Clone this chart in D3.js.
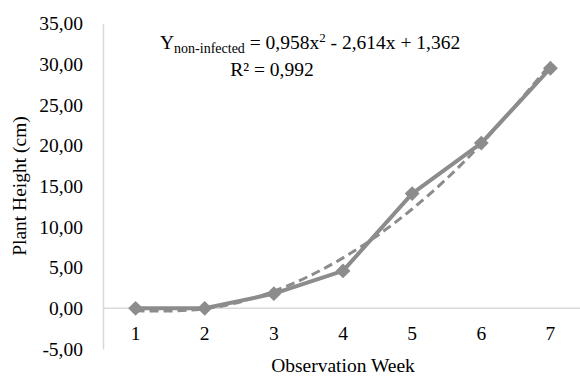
<!DOCTYPE html>
<html>
<head>
<meta charset="utf-8">
<title>Plant Height</title>
<style>
  body { margin: 0; background: #fff; }
</style>
</head>
<body>
<script src="https://cdn.jsdelivr.net/npm/d3@7"></script>
<div id="chart"></div>
<script>
const width = 580, height = 376;

// data
const weeks = [1, 2, 3, 4, 5, 6, 7];
const height_cm = [0.0, 0.0, 1.8, 4.6, 14.1, 20.3, 29.5];
const trend = [-0.3, -0.05, 2.1, 6.2, 12.2, 20.2, 30.0];
const yTicks = [-5, 0, 5, 10, 15, 20, 25, 30, 35];

const grey = "#8c8c8c";
const font = "'Liberation Serif', 'Times New Roman', 'DejaVu Serif', serif";

const svg = d3.select("#chart").append("svg")
  .attr("width", width)
  .attr("height", height)
  .style("font-family", font);

const x = d3.scaleBand().domain(weeks).range([101, 585]);
const y = d3.scaleLinear().domain([-5, 35]).range([349, 23.5]);
const cx = d => x(d) + x.bandwidth() / 2;
const fmt = v => d3.format(".2f")(v).replace(".", ",").replace("\u2212", "-");

// y axis
const yAxis = svg.append("g")
  .attr("transform", "translate(103,0)")
  .call(d3.axisLeft(y).tickValues(yTicks).tickSize(0).tickPadding(20).tickFormat(fmt));
yAxis.attr("font-family", font).attr("font-size", null);
yAxis.select(".domain").attr("stroke", "#d9d9d9").attr("stroke-width", 1.5);
yAxis.selectAll("text").style("font-size", "19.5px").style("font-family", font);

// x axis line at zero
svg.append("line")
  .attr("x1", 103).attr("x2", 580)
  .attr("y1", y(0)).attr("y2", y(0))
  .attr("stroke", "#d9d9d9").attr("stroke-width", 1.5);

// x labels below (low position)
svg.append("g").selectAll("text")
  .data(weeks).join("text")
  .attr("x", cx)
  .attr("y", y(-5) - 9)
  .attr("text-anchor", "middle")
  .style("font-size", "19.5px")
  .style("font-family", font)
  .text(d => d);

// trendline
const pts = weeks.map((w, i) => [cx(w), y(trend[i])]);
svg.append("path")
  .attr("d", d3.line().curve(d3.curveNatural)(pts))
  .attr("fill", "none")
  .attr("stroke", grey)
  .attr("stroke-width", 3)
  .attr("stroke-dasharray", "9,5");

// series
const line = d3.line().x(d => cx(d.w)).y(d => y(d.v));
const data = weeks.map((w, i) => ({ w: w, v: height_cm[i] }));
svg.append("path")
  .datum(data)
  .attr("d", line)
  .attr("fill", "none")
  .attr("stroke", grey)
  .attr("stroke-width", 4)
  .attr("stroke-linejoin", "round");

svg.append("g").selectAll("path")
  .data(data).join("path")
  .attr("d", d3.symbol(d3.symbolSquare, 110))
  .attr("transform", d => `translate(${cx(d.w)},${y(d.v)}) rotate(45)`)
  .attr("fill", grey);

// axis titles
svg.append("text")
  .attr("x", 343).attr("y", 372)
  .attr("text-anchor", "middle")
  .style("font-size", "19.5px")
  .style("font-family", font)
  .text("Observation Week");

svg.append("text")
  .attr("transform", "translate(26,186) rotate(-90)")
  .attr("text-anchor", "middle")
  .style("font-size", "19.5px")
  .style("font-family", font)
  .text("Plant Height (cm)");

// equation
const eq = svg.append("text")
  .attr("x", 160).attr("y", 49)
  .style("font-size", "19.5px")
  .style("font-family", font);
eq.append("tspan").text("Y");
eq.append("tspan").attr("dy", 4).style("font-size", "14px").text("non-infected");
eq.append("tspan").attr("dy", -4).text(" = 0,958x");
eq.append("tspan").attr("dy", -7).style("font-size", "13px").text("2");
eq.append("tspan").attr("dy", 7).text(" - 2,614x + 1,362");

svg.append("text")
  .attr("x", 272).attr("y", 76)
  .attr("text-anchor", "middle")
  .style("font-size", "19.5px")
  .style("font-family", font)
  .text("R² = 0,992");
</script>
</body>
</html>
